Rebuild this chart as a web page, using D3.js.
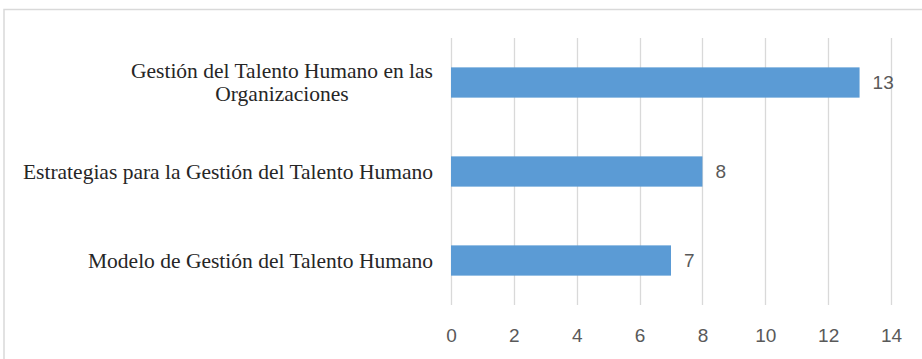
<!DOCTYPE html>
<html lang="es">
<head>
  <meta charset="UTF-8">
  <title>Gestión del Talento Humano</title>
  <script src="https://d3js.org/d3.v7.min.js"></script>
  <style>
    body { margin:0; background:#fff; overflow:hidden; }
    svg { display:block; }
    .cat { font-family: "Liberation Serif", "Times New Roman", serif; font-size:21.5px; fill:#262626; }
    .tick-label, .val { font-family: "Liberation Sans", Arial, sans-serif; font-size:19px; fill:#595959; }
  </style>
</head>
<body>
<svg width="922" height="359"></svg>
<script>
// datos
const categories = [
  'Gestión del Talento Humano en las Organizaciones',
  'Estrategias para la Gestión del Talento Humano',
  'Modelo de Gestión del Talento Humano'
];
const values = [13, 8, 7];
const ticks = [0, 2, 4, 6, 8, 10, 12, 14];
// el primer rótulo va en dos líneas
const labelLines = [
  ['Gestión del Talento Humano en las', 'Organizaciones'],
  ['Estrategias para la Gestión del Talento Humano'],
  ['Modelo de Gestión del Talento Humano']
];

const svg = d3.select('svg');
const W = 922, H = 359;
const plot = { left: 451, right: 891, top: 38, bottom: 305 };

// marco del gráfico (se sale por la derecha y por abajo)
svg.append('rect')
  .attr('x', 4).attr('y', 9.5)
  .attr('width', W + 20).attr('height', H + 20)
  .attr('fill', 'none')
  .attr('stroke', '#d9d9d9')
  .attr('stroke-width', 1.5);

const x = d3.scaleLinear().domain([0, 14]).range([plot.left, plot.right]);
const y = d3.scaleBand()
  .domain(categories)
  .range([plot.top, plot.bottom])
  .paddingInner(0.66)
  .paddingOuter(0.33);

// 1) líneas de cuadrícula verticales
svg.append('g')
  .selectAll('line')
  .data(ticks)
  .enter()
  .append('line')
  .attr('x1', d => Math.round(x(d)) + 0.5)
  .attr('x2', d => Math.round(x(d)) + 0.5)
  .attr('y1', plot.top)
  .attr('y2', plot.bottom)
  .attr('stroke', '#d9d9d9')
  .attr('stroke-width', 1.3);

// 2) eje x: solo los números
const xAxis = svg.append('g')
  .attr('transform', `translate(0,${plot.bottom})`)
  .call(d3.axisBottom(x).tickValues(ticks).tickSize(0).tickPadding(24));
xAxis.select('.domain').remove();
xAxis.selectAll('text')
  .attr('class', 'tick-label')
  .attr('font-size', null)
  .attr('font-family', null)
  .attr('fill', null);

// 3) barras
const rows = categories.map((c, i) => ({ cat: c, val: values[i], lines: labelLines[i] }));
svg.append('g')
  .selectAll('rect')
  .data(rows)
  .enter()
  .append('rect')
  .attr('x', x(0))
  .attr('y', d => y(d.cat))
  .attr('width', d => x(d.val) - x(0))
  .attr('height', y.bandwidth())
  .attr('fill', '#5b9bd5');

// 4) etiquetas de valor
svg.append('g')
  .selectAll('text')
  .data(rows)
  .enter()
  .append('text')
  .attr('class', 'val')
  .attr('x', d => x(d.val) + 13)
  .attr('y', d => y(d.cat) + y.bandwidth() / 2)
  .attr('dy', '0.35em')
  .text(d => d.val);

// 5) rótulos de categoría (alineados a la derecha, líneas centradas entre sí)
const labelRight = plot.left - 18;
const lineH = 23;
rows.forEach(d => {
  const cy = y(d.cat) + y.bandwidth() / 2;
  const g = svg.append('g');
  const texts = d.lines.map((t, j) => g.append('text')
    .attr('class', 'cat')
    .attr('y', cy + 7 + (j - (d.lines.length - 1) / 2) * lineH)
    .text(t));
  const widths = texts.map(t => t.node().getComputedTextLength());
  const maxW = d3.max(widths);
  const center = labelRight - maxW / 2;
  texts.forEach(t => t.attr('x', center).attr('text-anchor', 'middle'));
});
</script>
</body>
</html>
